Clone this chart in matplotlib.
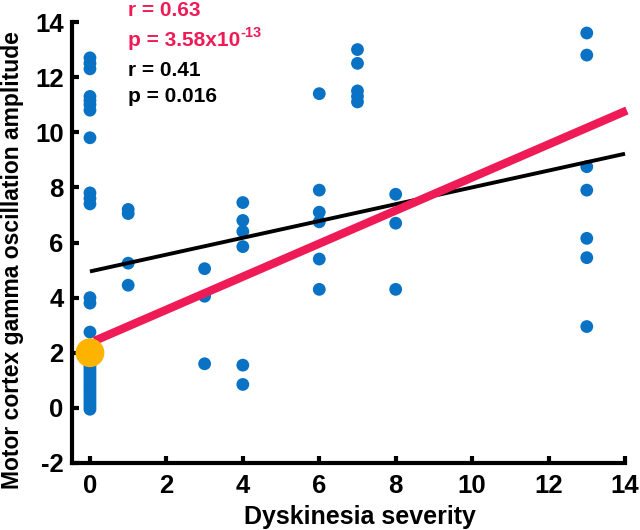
import matplotlib
matplotlib.use("Agg")
import matplotlib.pyplot as plt

plt.rcParams['font.family'] = ['Liberation Sans', 'DejaVu Sans']
plt.rcParams['font.weight'] = 'bold'
plt.rcParams['axes.unicode_minus'] = False

# ---- data ----
sev_0 = [12.7, 12.5, 12.3, 11.3, 11.15, 11.0, 10.8, 9.8, 7.8, 7.6, 7.4, 4.0, 3.8, 2.75,
         1.75, 1.65, 1.55, 1.45, 1.35, 1.25, 1.15, 1.05, 0.95, 0.85, 0.75, 0.65,
         0.55, 0.45, 0.35, 0.25, 0.15, 0.05, -0.05]
sev_1 = [7.2, 7.05, 5.25, 4.45]
sev_3 = [5.05, 4.05, 1.6]
sev_4 = [7.45, 6.8, 6.4, 5.85, 1.55, 0.85]
sev_6 = [11.4, 7.9, 7.1, 6.75, 5.4, 4.3]
sev_7 = [13.0, 12.5, 11.5, 11.3, 11.1]
sev_8 = [7.75, 6.7, 4.3]
sev_13 = [13.6, 12.8, 8.75, 7.9, 6.15, 5.45, 2.95]

groups = {0: sev_0, 1: sev_1, 3: sev_3, 4: sev_4, 6: sev_6, 7: sev_7, 8: sev_8, 13: sev_13}

# group mean marker (orange) at severity 0
mean_point_x = [0]
mean_point_y = [2.0]

# regression lines: (intercept, slope) and x-range
red_fit = (2.36, 0.60)
red_xrange = [0.12, 14.05]
black_fit = (4.95, 0.305)
black_xrange = [0.0, 14.0]

x_ticks = [0, 2, 4, 6, 8, 10, 12, 14]
y_ticks = [-2, 0, 2, 4, 6, 8, 10, 12, 14]

BLUE = '#0A72C4'
RED = '#EE1B57'
ORANGE = '#FDB300'

fig = plt.figure(figsize=(6.4, 5.3), dpi=100)
ax = fig.add_axes([72/640, 1-463/530, (625-72)/640, (463-22)/530])

xs, ys = [], []
for k, v in groups.items():
    xs += [k] * len(v)
    ys += v
ax.scatter(xs, ys, s=85, color=BLUE, edgecolors='none', zorder=2, clip_on=False)

bx = black_xrange
ax.plot(bx, [black_fit[0] + black_fit[1]*x for x in bx], color='black', lw=2.8,
        zorder=3, solid_capstyle='butt', clip_on=False)
rx = red_xrange
ax.plot(rx, [red_fit[0] + red_fit[1]*x for x in rx], color=RED, lw=6.0,
        zorder=4, solid_capstyle='butt', clip_on=False)
ax.scatter(mean_point_x, mean_point_y, s=430, color=ORANGE, edgecolors='none',
           zorder=5, clip_on=False)

ax.set_xlim(-0.47, 14)
ax.set_ylim(-2, 14)
ax.set_xticks(x_ticks)
ax.set_yticks(y_ticks)
for s in ['top', 'right']:
    ax.spines[s].set_visible(False)
for s in ['left', 'bottom']:
    ax.spines[s].set_linewidth(3.0)
ax.tick_params(direction='in', length=5, width=3, labelsize=18.5)
ax.tick_params(axis='x', pad=8)
ax.tick_params(axis='y', pad=6)
for lab in ax.get_xticklabels() + ax.get_yticklabels():
    lab.set_fontweight('bold')

ax.set_xlabel('Dyskinesia severity', fontsize=18, fontweight='bold')
ax.xaxis.set_label_coords(0.52, -0.095)
ax.set_ylabel('Motor cortex gamma oscillation amplitude', fontsize=16.5,
              fontweight='bold')
ax.yaxis.set_label_coords(-0.087, 0.46)

tx = 128/640
fs = 15
fig.text(tx, 1-11/530, 'r = 0.63', color=RED, fontsize=fs, fontweight='bold', va='center')
pt = fig.text(tx, 1-40/530, 'p = 3.58x10', color=RED, fontsize=fs, fontweight='bold', va='center')
ax.annotate('-13', xy=(1.0, 0.85), xycoords=pt, color=RED, fontsize=10.5,
            fontweight='bold', va='center', ha='left', annotation_clip=False)
fig.text(tx, 1-70/530, 'r = 0.41', color='black', fontsize=fs, fontweight='bold', va='center')
fig.text(tx, 1-96/530, 'p = 0.016', color='black', fontsize=fs, fontweight='bold', va='center')

fig.savefig('out.png', dpi=100)
